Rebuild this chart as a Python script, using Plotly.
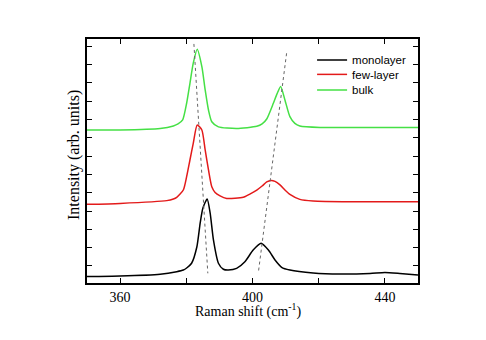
import plotly.graph_objects as go

# Raman shift (cm^-1) and intensity (arb. units, offset per trace)
mono_x = [350.0, 360.0, 372.1, 377.1, 379.1, 380.1, 381.6, 383.2, 384.2, 385.0, 386.3, 387.2, 388.2, 389.7,
          391.2, 392.7, 395.2, 397.7, 400.2, 402.6, 404.8, 406.8, 408.8, 411.3, 418.3, 426.4, 435.5, 440.0,
          444.5, 450.0]
mono_y = [-0.58, -0.55, -0.45, -0.31, -0.22, -0.11, 0.15, 1.05, 2.35, 3.15, 3.66, 2.90, 1.42, 0.15,
          -0.18, -0.22, -0.13, 0.23, 0.87, 1.24, 0.87, 0.33, -0.07, -0.22, -0.38, -0.44, -0.41, -0.36,
          -0.41, -0.49]

few_x = [350.0, 360.0, 374.1, 376.1, 377.1, 379.1, 380.1, 381.1, 382.1, 383.3, 384.7, 385.7, 386.7, 387.7,
         388.7, 390.2, 392.2, 397.2, 399.2, 401.3, 402.9, 404.3, 405.6, 406.8, 408.3, 409.8, 411.3, 414.3,
         418.3, 429.4, 450.0]
few_y = [3.37, 3.42, 3.57, 3.66, 3.75, 4.15, 4.88, 5.79, 6.70, 7.70, 7.43, 6.34, 5.25, 4.33,
         4.02, 3.83, 3.69, 3.75, 3.93, 4.15, 4.37, 4.59, 4.67, 4.62, 4.43, 4.15, 3.91, 3.64,
         3.55, 3.51, 3.51]

bulk_x = [350.0, 360.0, 372.1, 376.1, 377.5, 378.9, 380.1, 381.1, 382.1, 383.3, 384.7, 385.7, 386.7, 387.7,
          389.7, 395.2, 401.3, 402.9, 404.3, 406.3, 407.4, 408.5, 409.8, 411.3, 412.8, 414.3, 420.4, 438.5,
          450.0]
bulk_y = [7.43, 7.43, 7.51, 7.65, 7.76, 7.98, 8.89, 9.98, 11.08, 11.84, 10.89, 9.62, 8.52, 7.88,
          7.60, 7.51, 7.63, 7.76, 8.03, 8.89, 9.40, 9.81, 9.07, 8.16, 7.79, 7.65, 7.57, 7.56,
          7.57]

# peak-shift guide lines
guide1_x = [382.3, 386.5]
guide1_y = [12.13, -0.40]
guide2_x = [410.3, 401.8]
guide2_y = [11.62, -0.31]

x_ticks = [360, 380, 400, 420, 440]
x_tick_labels = ["360", "", "400", "", "440"]
y_ticks = list(range(0, 13))

series = [
    ("monolayer", mono_x, mono_y, "black", "legend"),
    ("few-layer", few_x, few_y, "#e31a1a", "legend2"),
    ("bulk", bulk_x, bulk_y, "#45e045", "legend3"),
]

fig = go.Figure()
for name, xs, ys, col, leg in series:
    fig.add_trace(go.Scatter(x=xs, y=ys, mode="lines", name=name, legend=leg,
                             line=dict(color=col, width=1.5, shape="spline", smoothing=0.6)))
for gx, gy in ((guide1_x, guide1_y), (guide2_x, guide2_y)):
    fig.add_trace(go.Scatter(x=gx, y=gy, mode="lines", showlegend=False,
                             line=dict(color="#666666", width=1, dash="dot")))

sans = "Arial, Liberation Sans, sans-serif"
serif = "Times New Roman, Liberation Serif, serif"


def leg(yc):
    return dict(x=0.68, y=yc, xanchor="left", yanchor="middle",
                bgcolor="rgba(0,0,0,0)", borderwidth=0,
                font=dict(family=sans, size=11.5, color="black"), itemwidth=30)


fig.update_layout(
    width=486, height=340,
    margin=dict(l=87, r=68, t=39, b=57),
    paper_bgcolor="white", plot_bgcolor="white",
    showlegend=True,
    legend=leg(0.914),
    legend2=leg(0.855),
    legend3=leg(0.791),
    xaxis=dict(range=[350, 450], tickvals=x_ticks, ticktext=x_tick_labels,
               ticks="inside", ticklen=5, tickwidth=1, tickcolor="black",
               showline=True, linecolor="black", linewidth=1.5, mirror="ticks",
               showgrid=False, zeroline=False,
               tickfont=dict(family=serif, size=14, color="black")),
    yaxis=dict(range=[-0.93, 12.40], tickvals=y_ticks, showticklabels=False,
               ticks="inside", ticklen=5, tickwidth=1, tickcolor="black",
               showline=True, linecolor="black", linewidth=1.5, mirror="ticks",
               showgrid=False, zeroline=False),
    annotations=[
        dict(text="Raman shift (cm<sup>-1</sup>)", xref="paper", yref="paper",
             x=0.486, y=-0.113, xanchor="center", yanchor="middle", showarrow=False,
             font=dict(family=serif, size=14, color="black")),
        dict(text="Intensity (arb. units)", xref="paper", yref="paper", textangle=-90,
             x=-0.039, y=0.525, xanchor="center", yanchor="middle", showarrow=False,
             font=dict(family=serif, size=16, color="black")),
    ],
)

fig.write_html("out.html")
